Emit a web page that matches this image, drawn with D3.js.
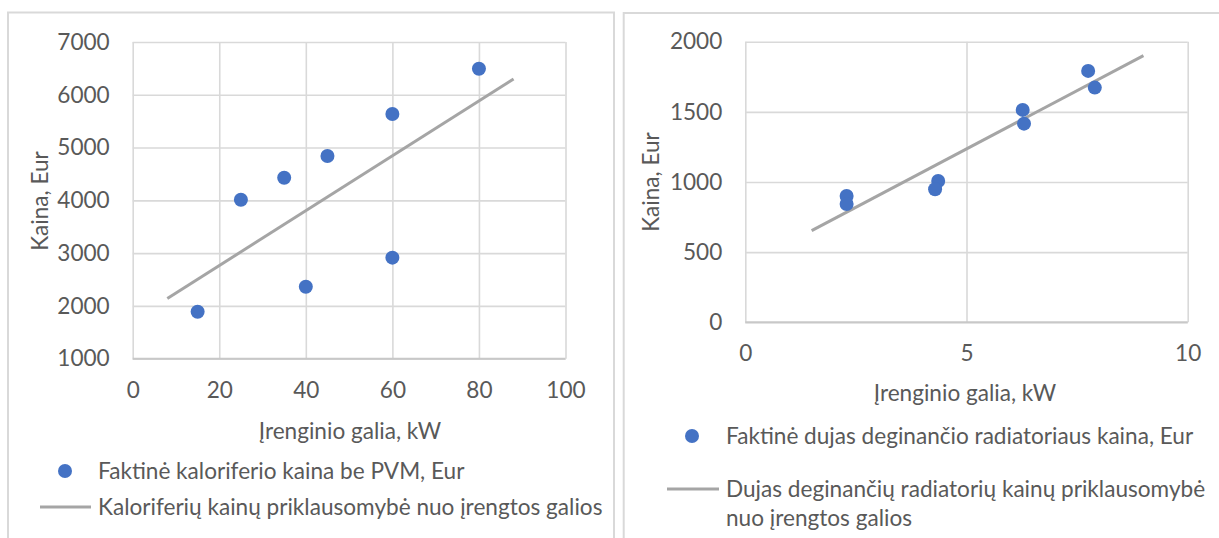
<!DOCTYPE html>
<html><head><meta charset="utf-8">
<script src="https://cdn.jsdelivr.net/npm/d3@7"></script>
<style>
body{margin:0;background:#fff}
text{font-family:Lato,"Open Sans",sans-serif;fill:#595959}
</style>
</head><body>
<svg id="c" width="1219" height="538"></svg>
<script>
// ---- data ----
const leftPower = [15, 25, 35, 40, 45, 60, 60, 80];
const leftPrice = [1890, 4012, 4429, 2364, 4840, 5636, 2914, 6494];
const leftTrendPower = [8, 88];
const leftTrendPrice = [2140, 6300];
const leftXTicks = [0, 20, 40, 60, 80, 100];
const leftYTicks = [1000, 2000, 3000, 4000, 5000, 6000, 7000];

const rightPower = [2.29, 2.29, 4.36, 4.29, 6.27, 6.30, 7.75, 7.90];
const rightPrice = [900, 843, 1007, 948, 1514, 1416, 1792, 1673];
const rightTrendPower = [1.5, 9.0];
const rightTrendPrice = [653, 1901];
const rightXTicks = [0, 5, 10];
const rightYTicks = [0, 500, 1000, 1500, 2000];

const yTitle = "Kaina, Eur";
const xTitle = "Įrenginio galia, kW";
const leftLegend = ["Faktinė kaloriferio kaina be PVM, Eur", "Kaloriferių kainų priklausomybė nuo įrengtos galios"];
const rightLegend = ["Faktinė dujas deginančio radiatoriaus kaina, Eur", ["Dujas deginančių radiatorių kainų priklausomybė", "nuo įrengtos galios"]];

// ---- layout ----
const svg = d3.select("#c");
svg.append("rect").attr("width",1219).attr("height",538).attr("fill","#fff");

const FS = 22.6;
const dotColor = "#4472C4", lineColor = "#A5A5A5", gridColor = "#D9D9D9";
const fmt = d3.format("d");

function panel(cfg){
  svg.append("rect").attr("x",cfg.panel[0]).attr("y",cfg.panel[1])
    .attr("width",cfg.panel[2]).attr("height",cfg.panel[3])
    .attr("fill","none").attr("stroke",gridColor).attr("stroke-width",2);
  const x = d3.scaleLinear().domain(cfg.xDom).range([cfg.plot[0], cfg.plot[2]]);
  const y = d3.scaleLinear().domain(cfg.yDom).range([cfg.plot[3], cfg.plot[1]]);
  const g = svg.append("g");
  g.append("g").attr("transform",`translate(0,${cfg.plot[3]})`)
    .call(d3.axisBottom(x).tickValues(cfg.xTicks).tickSize(-(cfg.plot[3]-cfg.plot[1])).tickFormat(""))
    .call(s=>{s.select(".domain").remove(); s.selectAll("line").attr("stroke",gridColor).attr("stroke-width",1.6);});
  g.append("g").attr("transform",`translate(${cfg.plot[0]},0)`)
    .call(d3.axisLeft(y).tickValues(cfg.yTicks).tickSize(-(cfg.plot[2]-cfg.plot[0])).tickFormat(""))
    .call(s=>{s.select(".domain").remove(); s.selectAll("line").attr("stroke",gridColor).attr("stroke-width",1.6);});
  g.append("line").attr("x1",cfg.plot[0]).attr("x2",cfg.plot[2]).attr("y1",cfg.plot[3]).attr("y2",cfg.plot[3])
    .attr("stroke","#C8C8C8").attr("stroke-width",2);
  g.append("g").attr("transform",`translate(0,${cfg.plot[3]})`)
    .call(d3.axisBottom(x).tickValues(cfg.xTicks).tickFormat(fmt).tickSize(0).tickPadding(31))
    .call(s=>{s.select(".domain").remove(); s.selectAll("text").attr("font-size",FS).attr("fill","#595959").attr("dy","0.35em").attr("y",31);});
  g.append("g").attr("transform",`translate(${cfg.plot[0]},0)`)
    .call(d3.axisLeft(y).tickValues(cfg.yTicks).tickFormat(fmt).tickSize(0).tickPadding(23))
    .call(s=>{s.select(".domain").remove(); s.selectAll("text").attr("font-size",FS).attr("fill","#595959");});
  g.selectAll("g[font-family]").attr("font-family",null);
  g.selectAll("g[font-size]").attr("font-size",null);
  const tl = d3.line().x((d,i)=>x(cfg.tx[i])).y((d,i)=>y(cfg.ty[i]));
  g.append("path").attr("d",tl(cfg.tx)).attr("fill","none").attr("stroke",lineColor).attr("stroke-width",3);
  g.selectAll("circle.pt").data(cfg.px).join("circle").attr("class","pt")
    .attr("cx",d=>x(d)).attr("cy",(d,i)=>y(cfg.py[i])).attr("r",7).attr("fill",dotColor);
  g.append("text").attr("transform",`translate(${cfg.yTitlePos[0]},${cfg.yTitlePos[1]}) rotate(-90)`)
    .attr("text-anchor","middle").attr("dy","0.35em").attr("font-size",FS).text(yTitle);
  g.append("text").attr("x",cfg.xTitlePos[0]).attr("y",cfg.xTitlePos[1])
    .attr("text-anchor","middle").attr("dy","0.35em").attr("font-size",FS).text(xTitle);
  g.append("circle").attr("cx",cfg.leg1[0]).attr("cy",cfg.leg1[1]).attr("r",7).attr("fill",dotColor);
  g.append("text").attr("x",cfg.legText).attr("y",cfg.leg1[1]).attr("dy","0.35em").attr("font-size",FS).text(cfg.legend[0]);
  g.append("line").attr("x1",cfg.leg2[0]).attr("x2",cfg.leg2[1]).attr("y1",cfg.leg2[2]).attr("y2",cfg.leg2[2])
    .attr("stroke",lineColor).attr("stroke-width",3);
  const lines = Array.isArray(cfg.legend[1]) ? cfg.legend[1] : [cfg.legend[1]];
  const t = g.append("text").attr("x",cfg.legText).attr("y",cfg.leg2[2]).attr("font-size",FS);
  lines.forEach((l,i)=>t.append("tspan").attr("x",cfg.legText).attr("dy", i===0?"0.35em":"1.3em").text(l));
}

panel({
  panel:[8,12.5,606,540],
  plot:[132.7,42,565.5,358.7],
  xDom:[0,100], yDom:[1000,7000],
  xTicks:leftXTicks, yTicks:leftYTicks,
  px:leftPower, py:leftPrice, tx:leftTrendPower, ty:leftTrendPrice,
  yTitlePos:[40,201], xTitlePos:[350,431],
  leg1:[65,471], leg2:[40,91,507], legText:98,
  legend:leftLegend
});
panel({
  panel:[623.7,13,610,540],
  plot:[745.3,41.7,1187.7,322.3],
  xDom:[0,10], yDom:[0,2000],
  xTicks:rightXTicks, yTicks:rightYTicks,
  px:rightPower, py:rightPrice, tx:rightTrendPower, ty:rightTrendPrice,
  yTitlePos:[651.5,182], xTitlePos:[965,393],
  leg1:[692,436], leg2:[667,719,489], legText:726,
  legend:rightLegend
});
</script>
</body></html>
